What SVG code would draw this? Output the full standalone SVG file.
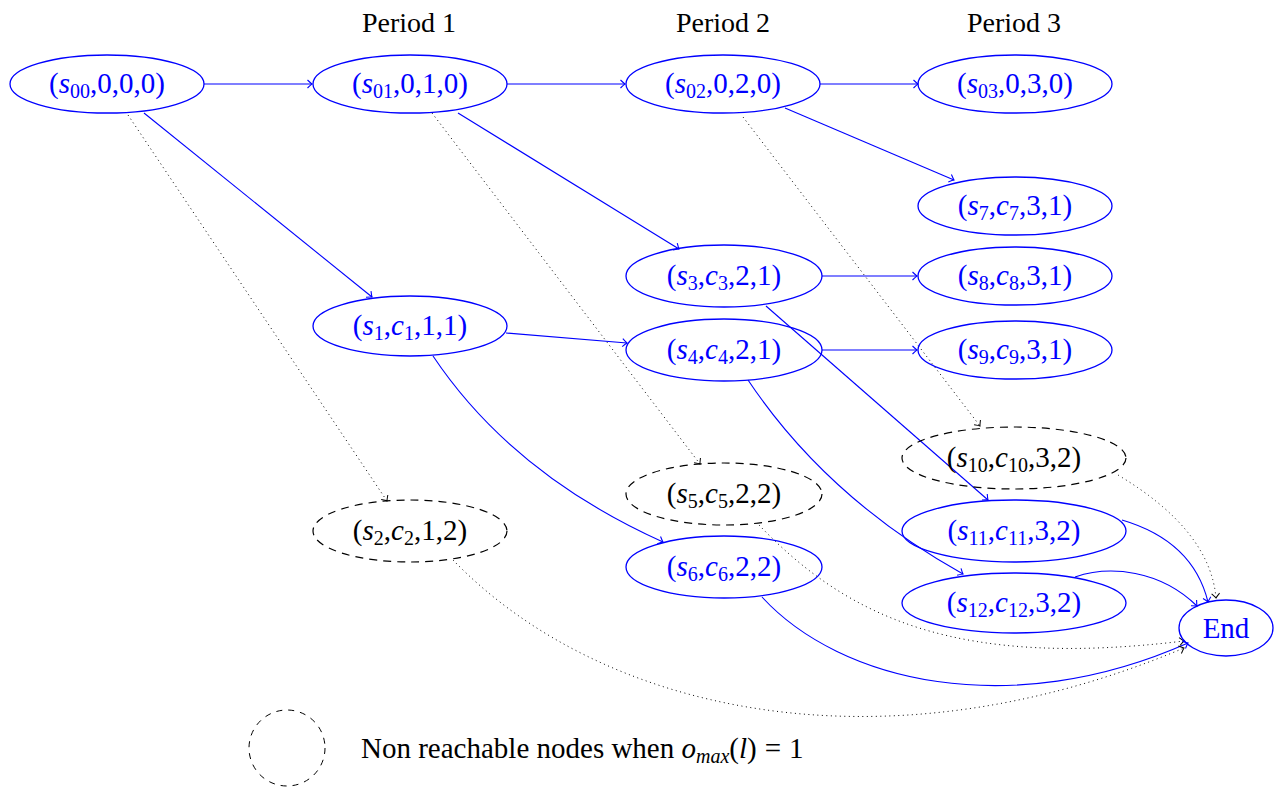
<svg xmlns="http://www.w3.org/2000/svg" width="1283" height="789" viewBox="0 0 1283 789">
<style>
text{font-family:"Liberation Serif","Times New Roman",serif;font-size:29px}
.lbl{text-anchor:middle}
.b{fill:#0000ff}
.k{fill:#000}
.i{font-style:italic}
.sub{font-size:20px}
.node{fill:none;stroke:#0000ff;stroke-width:1.3}
.un{fill:none;stroke:#000;stroke-width:1.2;stroke-dasharray:8 6}
.e{fill:none;stroke:#0000ff;stroke-width:1.1;marker-end:url(#ab)}
.d{fill:none;stroke:#000;stroke-width:1;stroke-dasharray:1 3.5;marker-end:url(#ak)}
.per{font-size:28px;text-anchor:middle}
</style>
<defs>
<marker id="ab" markerUnits="userSpaceOnUse" markerWidth="12" markerHeight="12" refX="0" refY="0" viewBox="-6 -6 12 12" orient="auto" overflow="visible">
<path d="M-4.5,-4 Q-1.2,-0.8 0,0 Q-1.2,0.8 -4.5,4" fill="none" stroke="#0000ff" stroke-width="1.1"/>
</marker>
<marker id="ak" markerUnits="userSpaceOnUse" markerWidth="12" markerHeight="12" refX="0" refY="0" viewBox="-6 -6 12 12" orient="auto" overflow="visible">
<path d="M-4.5,-4 Q-1.2,-0.8 0,0 Q-1.2,0.8 -4.5,4" fill="none" stroke="#000" stroke-width="1"/>
</marker>
</defs>
<rect width="1283" height="789" fill="#fff"/>
<g id="periods">
<text class="per" x="409" y="32">Period 1</text>
<text class="per" x="723" y="32">Period 2</text>
<text class="per" x="1014" y="32">Period 3</text>
</g>
<g id="connectors">
<path class="e" d="M204,84 L312,84"/>
<path class="e" d="M507,84 L625,84"/>
<path class="e" d="M820,84 L918,84"/>
<path class="e" d="M785,108 L954,180"/>
<path class="e" d="M458,113 L679,249"/>
<path class="e" d="M144,113 L372,297"/>
<path class="d" d="M128,115 L387,501"/>
<path class="d" d="M432,113 L700,464"/>
<path class="d" d="M743,117 L980,426"/>
<path class="e" d="M822,276 L917,276"/>
<path class="e" d="M822,350 L917,350"/>
<path class="e" d="M506,333 L627,343"/>
<path class="e" d="M766,306 L988,500"/>
<path class="e" d="M433,356 Q512,474 663,542"/>
<path class="e" d="M748,380 Q827,498 963,574"/>
<path class="e" d="M1122,520 Q1193,541 1208,602"/>
<path class="e" d="M1075,577 C1110,565 1160,570 1197,606"/>
<path class="d" d="M1118,475 Q1210,530 1216,598"/>
<path class="d" d="M759,525 C850,620 960,668 1184,641"/>
<path class="e" d="M762,597 C840,682 1010,722 1188,643"/>
<path class="d" d="M453,560 C600,712 880,776 1184,648"/>
</g>
<g id="s00"><ellipse class="node" cx="107" cy="84" rx="97" ry="29"/>
<text class="lbl b" x="107" y="93">(<tspan class="i">s</tspan><tspan class="sub" dy="5">00</tspan><tspan dy="-5">,0,0,0)</tspan></text></g>
<g id="s01"><ellipse class="node" cx="410" cy="84" rx="97" ry="29"/>
<text class="lbl b" x="410" y="93">(<tspan class="i">s</tspan><tspan class="sub" dy="5">01</tspan><tspan dy="-5">,0,1,0)</tspan></text></g>
<g id="s02"><ellipse class="node" cx="723" cy="84" rx="97" ry="29"/>
<text class="lbl b" x="723" y="93">(<tspan class="i">s</tspan><tspan class="sub" dy="5">02</tspan><tspan dy="-5">,0,2,0)</tspan></text></g>
<g id="s03"><ellipse class="node" cx="1015" cy="84" rx="97" ry="29"/>
<text class="lbl b" x="1015" y="93">(<tspan class="i">s</tspan><tspan class="sub" dy="5">03</tspan><tspan dy="-5">,0,3,0)</tspan></text></g>
<g id="s7"><ellipse class="node" cx="1015" cy="206" rx="97" ry="29"/>
<text class="lbl b" x="1015" y="215">(<tspan class="i">s</tspan><tspan class="sub" dy="5">7</tspan><tspan dy="-5">,</tspan><tspan class="i">c</tspan><tspan class="sub" dy="5">7</tspan><tspan dy="-5">,3,1)</tspan></text></g>
<g id="s3"><ellipse class="node" cx="724" cy="276" rx="98" ry="31"/>
<text class="lbl b" x="724" y="285">(<tspan class="i">s</tspan><tspan class="sub" dy="5">3</tspan><tspan dy="-5">,</tspan><tspan class="i">c</tspan><tspan class="sub" dy="5">3</tspan><tspan dy="-5">,2,1)</tspan></text></g>
<g id="s8"><ellipse class="node" cx="1015" cy="276" rx="97" ry="29"/>
<text class="lbl b" x="1015" y="285">(<tspan class="i">s</tspan><tspan class="sub" dy="5">8</tspan><tspan dy="-5">,</tspan><tspan class="i">c</tspan><tspan class="sub" dy="5">8</tspan><tspan dy="-5">,3,1)</tspan></text></g>
<g id="s1"><ellipse class="node" cx="410" cy="326" rx="97" ry="30"/>
<text class="lbl b" x="410" y="335">(<tspan class="i">s</tspan><tspan class="sub" dy="5">1</tspan><tspan dy="-5">,</tspan><tspan class="i">c</tspan><tspan class="sub" dy="5">1</tspan><tspan dy="-5">,1,1)</tspan></text></g>
<g id="s4"><ellipse class="node" cx="724" cy="350" rx="98" ry="31"/>
<text class="lbl b" x="724" y="359">(<tspan class="i">s</tspan><tspan class="sub" dy="5">4</tspan><tspan dy="-5">,</tspan><tspan class="i">c</tspan><tspan class="sub" dy="5">4</tspan><tspan dy="-5">,2,1)</tspan></text></g>
<g id="s9"><ellipse class="node" cx="1015" cy="350" rx="97" ry="29"/>
<text class="lbl b" x="1015" y="359">(<tspan class="i">s</tspan><tspan class="sub" dy="5">9</tspan><tspan dy="-5">,</tspan><tspan class="i">c</tspan><tspan class="sub" dy="5">9</tspan><tspan dy="-5">,3,1)</tspan></text></g>
<g id="s10"><ellipse class="un" cx="1014" cy="458" rx="112" ry="31"/>
<text class="lbl k" x="1014" y="467">(<tspan class="i">s</tspan><tspan class="sub" dy="5">10</tspan><tspan dy="-5">,</tspan><tspan class="i">c</tspan><tspan class="sub" dy="5">10</tspan><tspan dy="-5">,3,2)</tspan></text></g>
<g id="s5"><ellipse class="un" cx="724" cy="494" rx="98" ry="31"/>
<text class="lbl k" x="724" y="503">(<tspan class="i">s</tspan><tspan class="sub" dy="5">5</tspan><tspan dy="-5">,</tspan><tspan class="i">c</tspan><tspan class="sub" dy="5">5</tspan><tspan dy="-5">,2,2)</tspan></text></g>
<g id="s2"><ellipse class="un" cx="410" cy="531" rx="97" ry="31"/>
<text class="lbl k" x="410" y="540">(<tspan class="i">s</tspan><tspan class="sub" dy="5">2</tspan><tspan dy="-5">,</tspan><tspan class="i">c</tspan><tspan class="sub" dy="5">2</tspan><tspan dy="-5">,1,2)</tspan></text></g>
<g id="s11"><ellipse class="node" cx="1014" cy="531" rx="112" ry="31"/>
<text class="lbl b" x="1014" y="540">(<tspan class="i">s</tspan><tspan class="sub" dy="5">11</tspan><tspan dy="-5">,</tspan><tspan class="i">c</tspan><tspan class="sub" dy="5">11</tspan><tspan dy="-5">,3,2)</tspan></text></g>
<g id="s6"><ellipse class="node" cx="724" cy="567" rx="98" ry="31"/>
<text class="lbl b" x="724" y="576">(<tspan class="i">s</tspan><tspan class="sub" dy="5">6</tspan><tspan dy="-5">,</tspan><tspan class="i">c</tspan><tspan class="sub" dy="5">6</tspan><tspan dy="-5">,2,2)</tspan></text></g>
<g id="s12"><ellipse class="node" cx="1014" cy="603" rx="112" ry="30"/>
<text class="lbl b" x="1014" y="612">(<tspan class="i">s</tspan><tspan class="sub" dy="5">12</tspan><tspan dy="-5">,</tspan><tspan class="i">c</tspan><tspan class="sub" dy="5">12</tspan><tspan dy="-5">,3,2)</tspan></text></g>
<g id="End"><ellipse class="node" cx="1226" cy="628" rx="47" ry="28"/>
<text class="lbl b" x="1226" y="638">End</text></g>
<g id="legend">
<circle cx="287" cy="748" r="38" fill="none" stroke="#000" stroke-width="1" stroke-dasharray="6 6"/>
<text class="k" x="361" y="758">Non reachable nodes when <tspan class="i">o</tspan><tspan class="sub i" dy="5">max</tspan><tspan dy="-5">(</tspan><tspan class="i">l</tspan>)<tspan dx="8">=</tspan><tspan dx="8">1</tspan></text>
</g>
</svg>
